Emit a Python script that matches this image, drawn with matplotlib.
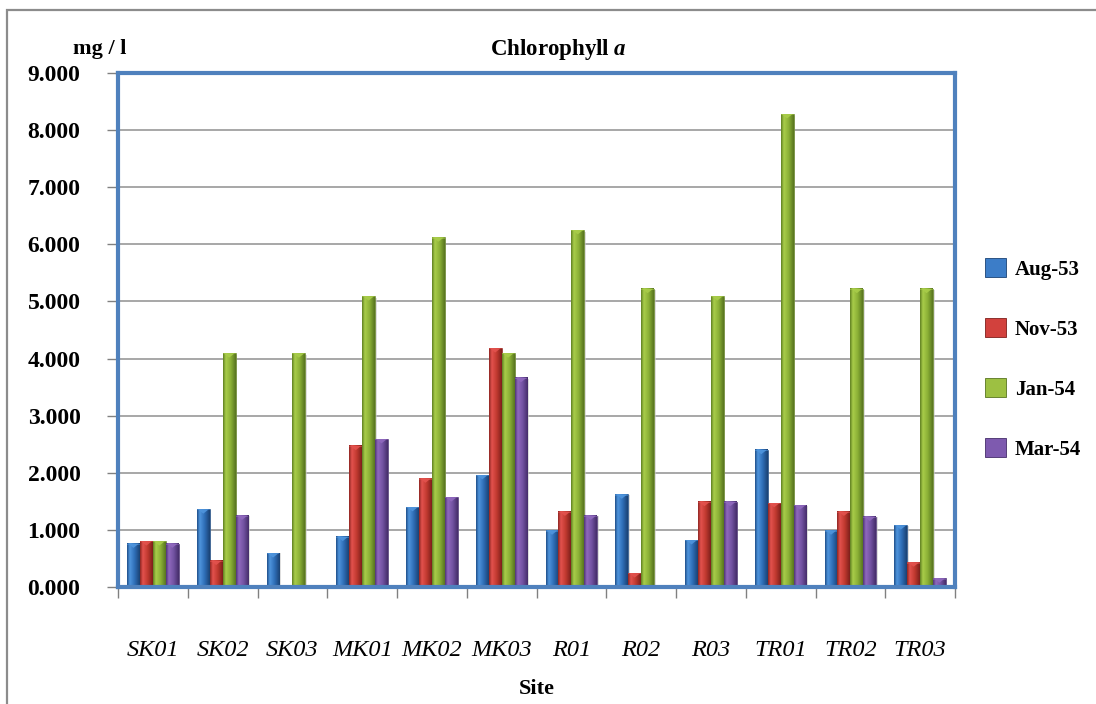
import numpy as np
import matplotlib
matplotlib.use("Agg")
import matplotlib.pyplot as plt
from matplotlib.colors import LinearSegmentedColormap
from matplotlib.patches import Rectangle, Polygon

# Chlorophyll a concentration (mg / l) by sampling site and survey month
sites = ["SK01", "SK02", "SK03", "MK01", "MK02", "MK03",
         "R01", "R02", "R03", "TR01", "TR02", "TR03"]
months = ["Aug-53", "Nov-53", "Jan-54", "Mar-54"]
aug_53 = [0.76, 1.36, 0.59, 0.88, 1.40, 1.96, 0.99, 1.62, 0.82, 2.40, 0.99, 1.08]
nov_53 = [0.80, 0.46, 0.00, 2.47, 1.90, 4.18, 1.32, 0.24, 1.49, 1.47, 1.32, 0.43]
jan_54 = [0.80, 4.09, 4.09, 5.09, 6.12, 4.09, 6.25, 5.22, 5.09, 8.28, 5.22, 5.22]
mar_54 = [0.76, 1.25, 0.02, 2.59, 1.57, 3.66, 1.25, 0.00, 1.49, 1.43, 1.23, 0.15]
yticks = [0, 1, 2, 3, 4, 5, 6, 7, 8, 9]

series = [aug_53, nov_53, jan_54, mar_54]
# (dark, light, mid, dark) shading stops for a bevelled bar look
palettes = [
    ("#1F4F8A", "#4F95DD", "#2E6DB6", "#1A4274"),
    ("#8E2622", "#E3524E", "#C0392F", "#7E1F1B"),
    ("#5F7F22", "#A9CD4A", "#8BB036", "#587520"),
    ("#4E3476", "#9069BE", "#7252A1", "#452D6A"),
]
legend_face = ["#3C7DC8", "#D2413D", "#9DC042", "#7E5AAF"]

plt.rcParams["font.family"] = ["Liberation Serif", "DejaVu Serif"]
plt.rcParams["mathtext.fontset"] = "custom"
plt.rcParams["mathtext.it"] = "Liberation Serif:italic:bold"
plt.rcParams["mathtext.rm"] = "Liberation Serif:bold"

W, H = 1096, 704
fig = plt.figure(figsize=(W / 100, H / 100), dpi=100)
fig.patch.set_facecolor("white")

# outer chart frame
fig.add_artist(Rectangle((7 / W, -0.2), 1.2, 1 - 10 / H + 0.2,
                         transform=fig.transFigure, fill=False,
                         edgecolor="#8C8C8C", linewidth=1.6))

ax = fig.add_axes([118 / W, 1 - 587 / H, (955 - 118) / W, (587 - 73) / H])

x = np.arange(len(sites))
bw = 0.185
offsets = (np.arange(len(months)) - 1.5) * bw

ax.set_xlim(-0.5, len(sites) - 0.5)
ax.set_ylim(0, 9)

cap = 0.075
for vals, pal, off in zip(series, palettes, offsets):
    cmap = LinearSegmentedColormap.from_list("bevel", list(zip([0, 0.22, 0.6, 1.0], pal)))
    grad = cmap(np.linspace(0, 1, 64))[None, :, :]
    bars = ax.bar(x + off, vals, width=bw, color=pal[2], edgecolor=pal[3],
                  linewidth=0.4, zorder=3)
    for b in bars:
        bx, bwid, bh = b.get_x(), b.get_width(), b.get_height()
        if bh <= 0:
            continue
        # soft shadow to the right
        ax.add_patch(Rectangle((bx + bwid, 0), bwid * 0.12, bh * 0.995,
                               facecolor="#C8C8C8", edgecolor="none",
                               alpha=0.6, zorder=2.5))
        ax.imshow(grad, extent=[bx, bx + bwid, 0, bh], aspect="auto",
                  interpolation="bilinear", zorder=3.5)
        if bh > cap * 1.5:
            ax.add_patch(Polygon([[bx + bwid * 0.08, bh], [bx + bwid * 0.92, bh],
                                  [bx + bwid / 2, bh - cap]], closed=True,
                                 facecolor=pal[1], edgecolor="none",
                                 alpha=0.9, zorder=4))
            ax.add_patch(Rectangle((bx, bh - cap * 0.25), bwid, cap * 0.25,
                                   facecolor=pal[1], edgecolor="none",
                                   alpha=0.5, zorder=4))

ax.set_xlim(-0.5, len(sites) - 0.5)
ax.set_ylim(0, 9)
ax.set_aspect("auto")

# grid and axes frame
ax.set_yticks(yticks)
ax.set_yticklabels([f"{v:.3f}" for v in yticks])
ax.yaxis.grid(True, color="#A0A0A0", linewidth=1.3, zorder=1)
ax.set_axisbelow(True)
for s in ax.spines.values():
    s.set_color("#4F81BD")
    s.set_linewidth(3)
    s.set_zorder(5)

ax.tick_params(axis="y", which="major", direction="out", length=8, width=1,
               color="#808080", pad=19, labelsize=17)
for lab in ax.get_yticklabels():
    lab.set_fontweight("bold")

ax.set_xticks(x)
ax.set_xticklabels(sites, fontsize=17.5, fontstyle="italic")
ax.set_xticks(np.arange(len(sites) + 1) - 0.5, minor=True)
ax.tick_params(axis="x", which="major", length=0, pad=38)
ax.tick_params(axis="x", which="minor", direction="out", length=8, width=1,
               color="#808080")

# titles
fig.text(100 / W, 1 - 49 / H, "mg / l", ha="center", va="center",
         fontsize=16, fontweight="bold")
fig.text(558 / W, 1 - 49 / H, r"Chlorophyll $\mathit{a}$", ha="center", va="center",
         fontsize=16.5, fontweight="bold")
fig.text(537 / W, 1 - 689 / H, "Site", ha="center", va="center",
         fontsize=16, fontweight="bold")

# legend
handles = [Rectangle((0, 0), 1, 1, facecolor=fc, edgecolor=pal[3], linewidth=0.6)
           for fc, pal in zip(legend_face, palettes)]
fig.legend(handles, months, loc="center left",
           bbox_to_anchor=(966 / W, 1 - 359 / H), frameon=False,
           prop={"family": "Liberation Serif", "weight": "bold", "size": 15},
           handlelength=1.0, handleheight=1.0, handletextpad=0.45,
           labelspacing=1.85)

fig.savefig("out.png", dpi=100)
